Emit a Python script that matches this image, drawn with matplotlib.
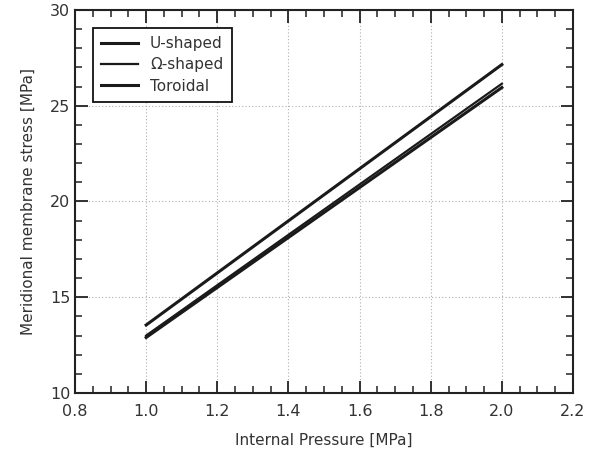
import matplotlib
matplotlib.use("Agg")
import matplotlib.pyplot as plt
from matplotlib.ticker import MultipleLocator

plt.rcParams['font.family'] = ['DejaVu Sans']

pressure = [1.0, 2.0]
u_shaped = [13.55, 27.15]
omega_shaped = [13.0, 26.15]
toroidal = [12.9, 25.95]
labels = ["U-shaped", "Ω-shaped", "Toroidal"]

fig = plt.figure(figsize=(5.9, 4.63), dpi=100)
ax = fig.add_axes([75/590, 1 - 393/463, (573-75)/590, (393-10)/463])

ax.plot(pressure, u_shaped, color='#1a1a1a', lw=2.2, label=labels[0])
ax.plot(pressure, omega_shaped, color='#1a1a1a', lw=1.6, label=labels[1])
ax.plot(pressure, toroidal, color='#1a1a1a', lw=2.2, label=labels[2])

ax.set_xlim(0.8, 2.2)
ax.set_ylim(10, 30)
ax.xaxis.set_major_locator(MultipleLocator(0.2))
ax.xaxis.set_minor_locator(MultipleLocator(0.05))
ax.yaxis.set_major_locator(MultipleLocator(5))
ax.yaxis.set_minor_locator(MultipleLocator(1))
ax.xaxis.set_major_formatter(matplotlib.ticker.FormatStrFormatter('%.1f'))
ax.tick_params(which='both', direction='in', top=True, right=True, colors='#222222', labelcolor='#333333', labelsize=11.5)
ax.tick_params(which='major', length=9, width=1.3)
ax.tick_params(which='minor', length=5, width=1.1)
ax.tick_params(axis='x', pad=8)
for s in ax.spines.values():
    s.set_linewidth(1.5)
    s.set_color('#222222')
ax.grid(True, which='major', linestyle=(0, (1, 2)), color='#b0b0b0', lw=0.8)

ax.set_xlabel("Internal Pressure [MPa]", fontsize=11, color='#333333', labelpad=10)
ax.set_ylabel("Meridional membrane stress [MPa]", fontsize=11, color='#333333', labelpad=10)

leg = ax.legend(loc='upper left', bbox_to_anchor=(0.020, 0.974), fontsize=11, frameon=True, fancybox=False,
                handlelength=2.4, borderpad=0.55, labelspacing=0.42, edgecolor='#111111', framealpha=1)
leg.get_frame().set_linewidth(1.3)
for t in leg.get_texts():
    t.set_color('#333333')

fig.savefig("out.png", dpi=100)
